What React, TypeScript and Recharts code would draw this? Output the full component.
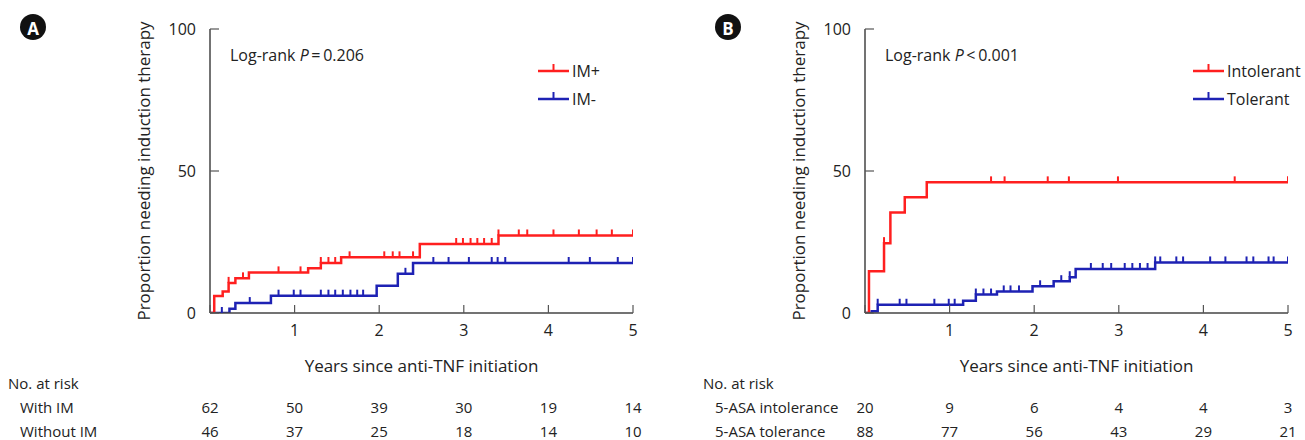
import React from "react";
import { ComposedChart, Line, Scatter, XAxis, YAxis } from "recharts";

const FONT = "'Open Sans', 'Noto Sans', sans-serif";
const RED = "#ff1f1f";
const BLUE = "#1e22b4";

const years = [0, 1, 2, 3, 4, 5];
const yTicks = [0, 50, 100];

// panel A: step points [years, %] and censor times
const imPlusSteps = [[0, 0], [0.05, 6], [0.15, 7.6], [0.22, 10.6], [0.3, 12.2], [0.46, 14.3], [1.16, 15.8], [1.31, 17.6], [1.55, 19.6], [2.48, 24.3], [3.41, 27.3], [5, 27.3]];
const imPlusCensor = [0.22, 0.39, 0.81, 1.07, 1.31, 1.4, 1.48, 1.65, 2.06, 2.16, 2.24, 2.4, 2.91, 2.99, 3.08, 3.16, 3.24, 3.33, 3.41, 3.65, 3.75, 4.06, 4.36, 4.57, 4.75, 5];
const imMinusSteps = [[0, 0], [0.23, 1.5], [0.3, 3.5], [0.72, 6.1], [1.97, 9.6], [2.22, 13.8], [2.4, 17.6], [5, 17.6]];
const imMinusCensor = [0.14, 0.47, 0.81, 0.99, 1.07, 1.31, 1.4, 1.48, 1.57, 1.66, 1.74, 1.81, 2.31, 2.64, 2.82, 3.06, 3.33, 3.4, 3.49, 4.24, 4.49, 4.82, 5];

// panel B
const intolSteps = [[0, 0], [0.047, 14.7], [0.225, 24.6], [0.3, 35.4], [0.47, 40.8], [0.73, 46], [5, 46]];
const intolCensor = [0.225, 1.49, 1.65, 2.16, 2.41, 2.99, 4.37, 5];
const tolSteps = [[0, 0], [0.08, 0.6], [0.15, 2.9], [1.16, 4.3], [1.31, 6.5], [1.56, 7.6], [1.98, 9.4], [2.23, 11.2], [2.42, 12.6], [2.49, 15.5], [3.43, 17.8], [5, 17.8]];
const tolCensor = [0.15, 0.41, 0.49, 0.82, 0.99, 1.06, 1.31, 1.4, 1.49, 1.64, 1.72, 1.82, 2.07, 2.32, 2.42, 2.67, 2.81, 2.91, 3.07, 3.16, 3.25, 3.34, 3.43, 3.49, 3.68, 3.76, 4.08, 4.26, 4.51, 4.59, 4.77, 4.83, 5];

// numbers at risk
const withIM = [62, 50, 39, 30, 19, 14];
const withoutIM = [46, 37, 25, 18, 14, 10];
const asaIntol = [20, 9, 6, 4, 4, 3];
const asaTol = [88, 77, 56, 43, 29, 21];

const toLine = (steps: number[][]) => steps.map(([t, p]) => ({ t, p }));
const valueAt = (steps: number[][], t: number) => {
  let v = 0;
  for (const [s, p] of steps) if (s <= t + 1e-9) v = p;
  return v;
};
const toCensor = (steps: number[][], times: number[]) => times.map((t) => ({ t, p: valueAt(steps, t) }));

const censorShape = (color: string) => (props: any) => (
  <line x1={props.cx} x2={props.cx} y1={props.cy} y2={props.cy - 6} stroke={color} strokeWidth={2} />
);

// plot box inside each 650x360 chart
const PL = 210;
const PW = 423;
const PB = 313;

const XTick = (props: any) => {
  const { x, payload } = props;
  return (
    <g>
      <line x1={x} x2={x} y1={PB} y2={PB - 8} stroke="#555" strokeWidth={1.2} />
      {payload.value !== 0 && (
        <text x={x} y={330} textAnchor="middle" dominantBaseline="central" fontSize={16} fill="#222" fontFamily={FONT}>
          {payload.value}
        </text>
      )}
    </g>
  );
};

const YTick = (props: any) => {
  const { y, payload } = props;
  return (
    <g>
      <line x1={PL} x2={PL + 9} y1={y} y2={y} stroke="#555" strokeWidth={1.2} />
      <text x={PL - 14} y={y} textAnchor="end" dominantBaseline="central" fontSize={16} fill="#222" fontFamily={FONT}>
        {payload.value}
      </text>
    </g>
  );
};

function KMPanel({ a, aCensor, b, bCensor }: any) {
  return (
    <ComposedChart width={650} height={360} margin={{ top: 29, right: 17, bottom: 17, left: 150 }}>
      <XAxis
        dataKey="t"
        type="number"
        domain={[0, 5]}
        ticks={years}
        height={30}
        axisLine={{ stroke: "#444", strokeWidth: 1.5 }}
        tickLine={false}
        tick={<XTick />}
        allowDataOverflow
      />
      <YAxis
        dataKey="p"
        type="number"
        domain={[0, 100]}
        ticks={yTicks}
        width={60}
        axisLine={{ stroke: "#444", strokeWidth: 1.5 }}
        tickLine={false}
        tick={<YTick />}
        allowDataOverflow
      />
      <Line data={toLine(b)} dataKey="p" type="stepAfter" stroke={BLUE} strokeWidth={2.5} dot={false} isAnimationActive={false} />
      <Line data={toLine(a)} dataKey="p" type="stepAfter" stroke={RED} strokeWidth={2.5} dot={false} isAnimationActive={false} />
      <Scatter data={toCensor(b, bCensor)} dataKey="p" shape={censorShape(BLUE)} isAnimationActive={false} />
      <Scatter data={toCensor(a, aCensor)} dataKey="p" shape={censorShape(RED)} isAnimationActive={false} />
    </ComposedChart>
  );
}

const xOf = (t: number, off: number) => off + PL + (t / 5) * PW;

function Legend({ x, y, color, label }: any) {
  return (
    <g>
      <line x1={x} x2={x + 31} y1={y} y2={y} stroke={color} strokeWidth={2.5} />
      <line x1={x + 15.5} x2={x + 15.5} y1={y} y2={y - 7} stroke={color} strokeWidth={2} />
      <text x={x + 34} y={y} dominantBaseline="central" fontSize={16} fill="#222">{label}</text>
    </g>
  );
}

function RiskTable({ off, labelX, rows, labels }: any) {
  return (
    <g fontSize={15} fill="#222">
      <text x={labelX} y={389}>No. at risk</text>
      {rows.map((r: number[], i: number) => (
        <g key={i}>
          <text x={labelX + 12} y={413 + i * 24}>{labels[i]}</text>
          {r.map((n, j) => (
            <text key={j} x={xOf(years[j], off)} y={413 + i * 24} textAnchor="middle">{n}</text>
          ))}
        </g>
      ))}
    </g>
  );
}

function Badge({ x, y, letter }: any) {
  return (
    <g>
      <circle cx={x} cy={y} r={13} fill="#111" />
      <text x={x} y={y + 1} textAnchor="middle" dominantBaseline="central" fontSize={17} fontWeight={700} fill="#fff">{letter}</text>
    </g>
  );
}

export default function App() {
  return (
    <div style={{ position: "absolute", left: 0, top: 0, width: 1305, height: 440, background: "#fff", fontFamily: FONT }}>
      <div style={{ position: "absolute", left: 0, top: 0 }}>
        <KMPanel a={imPlusSteps} aCensor={imPlusCensor} b={imMinusSteps} bCensor={imMinusCensor} />
      </div>
      <div style={{ position: "absolute", left: 655, top: 0 }}>
        <KMPanel a={intolSteps} aCensor={intolCensor} b={tolSteps} bCensor={tolCensor} />
      </div>
      <svg width={1305} height={440} style={{ position: "absolute", left: 0, top: 0, pointerEvents: "none", fontFamily: FONT }}>
        <Badge x={33} y={27} letter="A" />
        <Badge x={728} y={27} letter="B" />
        {[0, 655].map((off) => (
          <g key={off}>
            <text x={off + 143} y={171} transform={`rotate(-90 ${off + 143} 171)`} textAnchor="middle" dominantBaseline="central" fontSize={17} fill="#222">
              Proportion needing induction therapy
            </text>
            <text x={off + PL + PW / 2} y={365} textAnchor="middle" dominantBaseline="central" fontSize={17} fill="#222">
              Years since anti-TNF initiation
            </text>
          </g>
        ))}
        <text x={230} y={55} dominantBaseline="central" fontSize={16} fill="#222">
          Log-rank <tspan fontStyle="italic">P</tspan>{"\u2009=\u20090.206"}
        </text>
        <text x={885} y={55} dominantBaseline="central" fontSize={16} fill="#222">
          Log-rank <tspan fontStyle="italic">P</tspan>{"\u2009<\u20090.001"}
        </text>
        <Legend x={538} y={71} color={RED} label="IM+" />
        <Legend x={538} y={99} color={BLUE} label="IM-" />
        <Legend x={1193} y={71} color={RED} label="Intolerant" />
        <Legend x={1193} y={99} color={BLUE} label="Tolerant" />
        <RiskTable off={0} labelX={8} rows={[withIM, withoutIM]} labels={["With IM", "Without IM"]} />
        <RiskTable off={655} labelX={703} rows={[asaIntol, asaTol]} labels={["5-ASA intolerance", "5-ASA tolerance"]} />
      </svg>
    </div>
  );
}
